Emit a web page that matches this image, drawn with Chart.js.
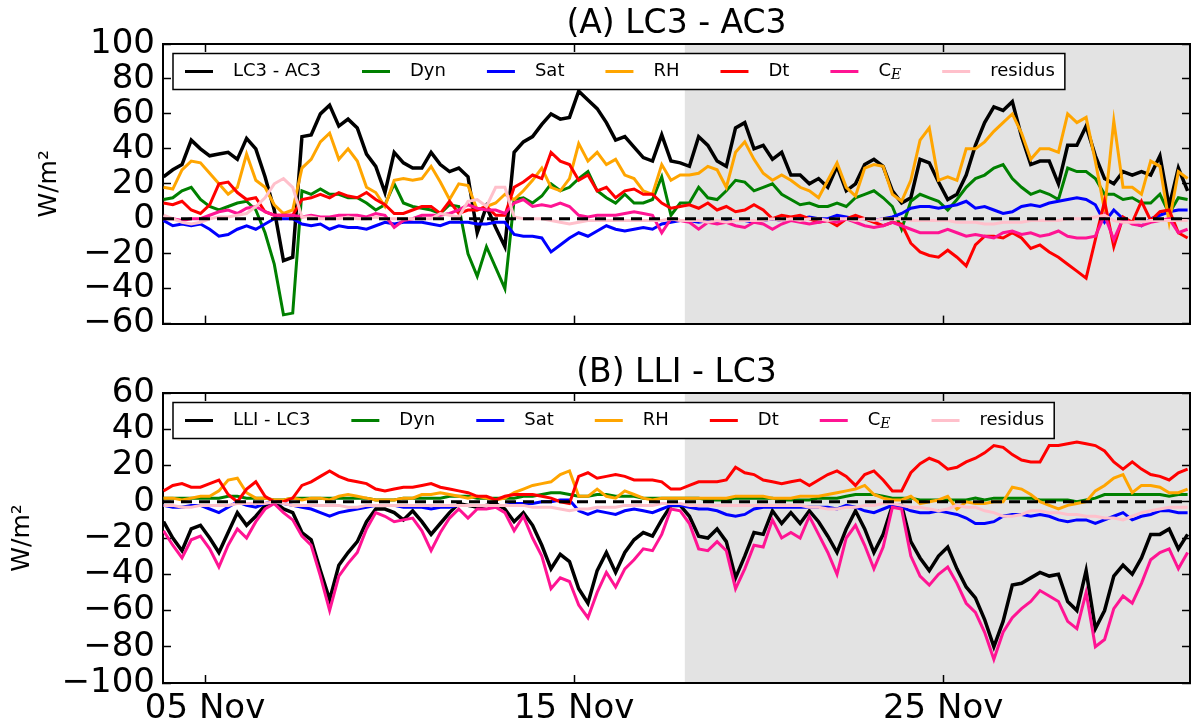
<!DOCTYPE html>
<html>
<head>
<meta charset="utf-8">
<title>(A) LC3 - AC3 / (B) LLI - LC3</title>
<script src="https://cdn.jsdelivr.net/npm/chart.js@4.4.1/dist/chart.umd.min.js"></script>
<style>
  html, body { margin: 0; padding: 0; background: #fff; }
  #wrap { position: relative; width: 1192px; height: 728px; overflow: hidden; }
  canvas { position: absolute; left: 0; }
  #chartA { top: 0; }
  #chartB { top: 350px; }
</style>
</head>
<body>
<div id="wrap">
  <canvas id="chartA" width="1192" height="360"></canvas>
  <canvas id="chartB" width="1192" height="378"></canvas>
</div>
<script>
// --- DADOS ---
// uma amostra a cada 6 h, a partir do dia 3.875 (03 Nov 21h), eixo x em dias de novembro
const T0 = 3.875, DT = 0.25;
const X_MIN = 3.86, X_MAX = 31.69;
const SHADE_START = 18;            // faixa cinza a partir de 18 Nov

const xTicks = [5, 15, 25];
const xTickLabels = ['05 Nov', '15 Nov', '25 Nov'];
const yRangeA = [-60, 100];
const yRangeB = [-100, 60];
const Y_STEP = 20;

const labelsA = ['LC3 - AC3', 'Dyn', 'Sat', 'RH', 'Dt', 'C_E', 'residus'];
const labelsB = ['LLI - LC3', 'Dyn', 'Sat', 'RH', 'Dt', 'C_E', 'residus'];
const CORES = ['#000000', '#008000', '#0000ff', '#ffa500', '#ff0000', '#ff1493', '#ffc0cb'];

// (A) LC3 - AC3
const aTotal = [24, 28, 31, 45, 40,
  36, 37, 38, 34, 46, 40, 24, 5, -24, -22, 47, 48, 60, 65, 53, 57, 52, 37, 30, 15,
  38, 32, 29, 29, 38, 31, 27, 29, 24, -8, 7, -5, -16, 38, 44, 47, 54, 60, 57, 58,
  73, 68, 63, 55, 45, 47, 41, 35, 33, 48, 33, 32, 30, 47, 42, 33, 30, 52, 55, 40,
  42, 34, 38, 25, 25, 20, 23, 18, 30, 16, 20, 31, 34, 30, 16, 9, 12, 34, 32, 21,
  11, 14, 25, 42, 55, 64, 62, 67, 47, 31, 33, 33, 20, 42, 42, 53, 36, 23, 20, 27,
  25, 27, 25, 36, 7, 29, 16];
const aDyn = [11, 12, 16, 18, 11,
  7, 5, 7, 9, 10, 5, -8, -26, -55, -54, 16, 14, 17, 14, 14, 12, 12, 9, 5, 8,
  20, 9, 7, 6, 5, 3, 8, 7, -20, -33, -16, -28, -40, 11, 12, 9, 13, 20, 16, 18,
  23, 27, 16, 12, 9, 14, 9, 9, 11, 24, 2, 9, 9, 18, 12, 11, 16, 22, 21, 16,
  18, 20, 14, 11, 8, 9, 7, 7, 9, 7, 12, 14, 16, 12, 7, -6, 10, 14, 12, 10,
  5, 11, 18, 23, 25, 29, 31, 23, 18, 14, 16, 14, 11, 29, 27, 27, 23, 14, 14, 11,
  12, 9, 9, 14, 3, 12, 11];
const aSat = [-1, -4, -3, -4, -3,
  -6, -10, -9, -6, -4, -6, -3, 0, 0, 0, -3, -4, -3, -6, -4, -5, -5, -6, -4, -2,
  -3, -2, -2, -2, -3, -4, -2, -2, -2, -3, -3, -2, -2, -9, -10, -10, -11, -19, -15, -11,
  -8, -10, -7, -4, -6, -7, -6, -5, -6, -3, -2, -1, -1, -2, -1, -2, -1, -1, -1, -2,
  -1, 0, -1, 0, 0, 1, 0, 0, 2, 1, 0, 0, -1, 0, 1, 3, 6, 7, 7, 6,
  7, 8, 10, 6, 7, 5, 3, 4, 7, 8, 7, 9, 10, 11, 12, 11, 8, -2, 5, 0,
  -2, -4, 0, 2, 4, 5, 5];
const aRH = [18, 17, 28, 33, 32,
  26, 20, 14, 18, 37, 22, 18, 8, 3, 5, 29, 34, 44, 49, 34, 40, 33, 18, 15, 7,
  22, 23, 22, 23, 30, 21, 11, 20, 19, 5, 7, 9, 14, 11, 16, 22, 29, 18, 16, 23,
  43, 33, 38, 31, 34, 25, 23, 16, 14, 31, 22, 25, 25, 26, 30, 28, 18, 38, 44, 34,
  26, 22, 25, 22, 18, 16, 12, 22, 32, 18, 13, 29, 31, 30, 14, 10, 22, 45, 52, 22,
  24, 22, 40, 40, 44, 50, 55, 60, 49, 34, 40, 40, 38, 60, 55, 58, 33, 5, 56, 18,
  18, 14, 33, 30, -2, 27, 23];
const aDt = [9, 8, 10, 5, 3,
  8, 20, 21, 15, 11, 12, 4, 2, 2, 2, 11, 12, 14, 12, 15, 13, 12, 15, 11, 8,
  3, 3, 5, 7, 7, 3, 10, 3, 5, 5, 7, 2, 2, 18, 21, 25, 23, 38, 33, 31,
  22, 25, 16, 18, 12, 16, 17, 14, 14, 9, 6, 7, 8, 6, 9, 5, 7, 4, 5, 8,
  5, 0, 2, 1, 2, 0, -2, -1, -4, 0, 2, 0, -2, -4, -2, -3, -14, -19, -21, -22,
  -18, -22, -27, -15, -10, -10, -11, -8, -11, -17, -15, -19, -22, -26, -30, -34, -12, 10, -16, 1,
  -2, 10, -1, 4, 5, -8, -11];
const aCE = [0, 0, -1, 0, 0,
  2, 4, 5, 3, 6, 7, 4, 2, 2, 2, 1, 2, 1, 1, 2, 2, 2, 1, 3, 2,
  -5, -1, 0, 2, 2, 2, 3, 5, 8, 6, 5, 5, 3, 9, 11, 7, 8, 7, 9, 7,
  2, 1, 2, 2, 2, 3, 4, 3, 2, -8, 0, -1, -2, -6, -2, -3, -2, -4, -5, -2,
  -3, -6, -3, -1, -2, -3, -2, -1, -2, 0, -2, -4, -5, -4, -2, -4, -6, -8, -8, -8,
  -6, -8, -10, -9, -10, -11, -8, -7, -9, -8, -10, -9, -7, -10, -11, -11, -10, 2, -12, 0,
  -3, -4, -2, -1, 0, -8, -6];
const aRes = [2, 0, -2, -3, -2,
  0, 1, 1, 2, 3, 7, 12, 20, 23, 18, 1, 1, 0, 0, 0, 1, 0, 0, 1, 0,
  0, 0, 0, 0, 0, 3, 2, 1, 10, 11, 7, 18, 18, 1, 0, 0, 0, -1, -2, -3,
  -2, -1, -1, -1, -1, -1, -1, -1, -1, -1, 0, -1, -1, -1, -2, -1, -2, -1, -1, -1,
  -1, 0, -1, 0, -1, 0, 0, -1, 0, 0, -1, 0, -1, 0, 0, 0, -1, -1, -1, -1,
  -1, -2, -2, -2, -3, -3, -2, -2, -2, -1, -1, -1, -1, 0, 0, 0, 1, 2, -1, -2,
  -2, -2, -1, -1, -1, -1, -1];

// (B) LLI - LC3
const bTotal = [-11, -20, -27, -15, -13,
  -20, -28, -17, -6, -13, -8, -2, 0, -4, -6, -17, -21, -38, -54, -35, -28, -22, -11, -4, -4,
  -6, -10, -5, -11, -18, -12, -6, -1, -2, -3, -2, -1, -4, -11, -6, -13, -24, -37, -29, -33,
  -48, -56, -38, -28, -39, -28, -21, -17, -19, -10, -2, -2, -8, -19, -20, -15, -22, -42, -30, -17,
  -18, -5, -12, -6, -12, -5, -11, -19, -28, -15, -5, -15, -28, -18, -2, -2, -22, -31, -38, -30,
  -25, -37, -47, -53, -65, -80, -66, -46, -45, -42, -39, -41, -40, -55, -60, -38, -70, -60, -41, -35,
  -40, -31, -18, -18, -15, -26, -18];
const bDyn = [2, 2, 2, 2, 2,
  2, 2, 3, 3, 2, 2, 2, 1, 1, 2, 2, 2, 2, 2, 2, 2, 2, 2, 1, 1,
  1, 2, 2, 2, 2, 2, 3, 3, 3, 2, 2, 2, 2, 2, 3, 3, 4, 5, 5, 4,
  3, 3, 4, 4, 3, 3, 3, 2, 2, 2, 2, 2, 2, 2, 1, 1, 1, 2, 2, 2,
  2, 2, 1, 1, 1, 1, 2, 2, 2, 3, 4, 4, 4, 3, 2, 2, 2, 1, 1, 1,
  1, 1, 1, 2, 1, 2, 2, 2, 2, 2, 1, 1, 1, 1, 0, 1, 2, 4, 4, 4,
  4, 4, 4, 4, 3, 4, 4];
const bSat = [-2, -3, -3, -2, -2,
  -4, -6, -3, 0, -2, -3, -1, 0, -1, -2, -3, -4, -6, -8, -6, -5, -4, -3, -2, -2,
  -2, -3, -3, -3, -4, -3, -3, -2, -2, -2, -2, -2, -2, -1, -1, -1, 0, 0, 1, 1,
  -5, -7, -5, -6, -7, -5, -4, -5, -6, -4, -2, -2, -3, -4, -4, -5, -7, -8, -7, -4,
  -3, -3, -3, -3, -3, -3, -3, -3, -4, -2, -3, -5, -6, -4, -2, -3, -5, -6, -6, -5,
  -6, -7, -9, -12, -12, -11, -8, -7, -7, -8, -7, -8, -10, -11, -10, -10, -12, -10, -8, -6,
  -10, -8, -7, -5, -5, -6, -6];
const bRH = [2, 2, 1, 2, 3,
  3, 6, 12, 13, 5, 2, 2, 1, 1, 2, 1, 2, 2, 1, 3, 4, 3, 2, 1, 1,
  1, 2, 2, 4, 4, 5, 4, 3, 2, 3, 2, 1, 2, 5, 7, 9, 10, 11, 15, 17,
  3, 3, 7, 3, 2, 6, 4, 2, 1, 2, 2, 2, 2, 2, 2, 2, 2, 3, 3, 3,
  3, 2, 2, 2, 3, 3, 3, 4, 5, 6, 7, 9, 4, 2, 1, 1, 3, -1, 0, 1,
  3, -4, 0, -1, -1, 0, 0, 8, 7, 4, 0, -2, -4, -2, -1, 0, 6, 9, 13, 15,
  5, 9, 9, 8, 5, 5, 7];
const bDt = [6, 9, 10, 8, 8,
  10, 12, 4, 0, 7, 11, 3, 0, 0, 2, 9, 11, 14, 17, 14, 12, 11, 10, 7, 6,
  7, 8, 8, 9, 10, 8, 7, 6, 5, 3, 3, 1, 3, 4, 4, 4, 3, 2, 0, -1,
  14, 16, 13, 14, 15, 14, 12, 12, 12, 11, 7, 7, 9, 11, 11, 11, 12, 19, 16, 15,
  12, 11, 10, 11, 12, 9, 12, 15, 17, 14, 9, 15, 17, 12, 6, 6, 16, 21, 24, 22,
  18, 19, 22, 24, 27, 31, 30, 26, 23, 22, 22, 31, 31, 32, 33, 32, 31, 28, 22, 18,
  22, 18, 15, 14, 12, 16, 18];
const bCE = [-16, -24, -31, -21, -19,
  -26, -36, -24, -15, -20, -11, -4, -1, -6, -10, -19, -24, -41, -60, -41, -34, -28, -15, -6, -8,
  -11, -10, -9, -16, -27, -17, -9, -4, -9, -4, -4, -3, -6, -16, -8, -20, -30, -48, -42, -44,
  -57, -64, -50, -39, -47, -37, -32, -26, -27, -18, -4, -5, -12, -26, -27, -22, -27, -48, -37, -24,
  -25, -10, -20, -17, -20, -8, -18, -28, -40, -20, -13, -24, -37, -25, -3, -4, -30, -41, -46, -40,
  -36, -45, -56, -61, -72, -87, -72, -64, -59, -55, -49, -52, -55, -66, -70, -50, -80, -76, -59, -52,
  -56, -45, -32, -28, -26, -37, -28];
const bRes = [-2, -2, -3, -3, -2,
  -2, -2, -2, -1, -1, -1, -1, 0, -1, -2, -2, -2, -2, -2, -2, -3, -3, -2, -2, -2,
  -2, -2, -2, -2, -2, -2, -2, -2, -2, -2, -2, -2, -2, -2, -2, -3, -3, -3, -4, -5,
  -4, -4, -3, -3, -3, -2, -2, -2, -2, -1, -1, -1, -2, -2, -2, -2, -2, -2, -2, -2,
  -2, -2, -2, -2, -2, -3, -3, -4, -4, -3, -3, -2, -2, -1, -1, -2, -3, -3, -4, -5,
  -4, -2, -3, -3, -5, -6, -8, -8, -7, -5, -5, -6, -6, -7, -7, -8, -8, -9, -9, -10,
  -8, -6, -5, -4, -3, -3, -3];

// --- ESTILO ---
const FONTE = "'DejaVu Sans', sans-serif";
const COR_FAIXA = '#e3e3e3';
Chart.defaults.font.family = FONTE;
Chart.defaults.color = '#000';

function pontos(vals) {
  return vals.map((v, i) => ({ x: T0 + i * DT, y: v }));
}

function montarDatasets(rotulos, series) {
  const ds = series.map((vals, k) => ({
    label: rotulos[k],
    data: pontos(vals),
    borderColor: CORES[k],
    backgroundColor: CORES[k],
    borderWidth: k === 0 ? 3.5 : 3,
    pointRadius: 0,
    fill: false,
    tension: 0,
    order: series.length - k      // a ultima serie fica por cima, como no matplotlib
  }));
  // linha tracejada do zero, por cima de tudo
  ds.push({
    label: '',
    data: [{ x: X_MIN, y: 0 }, { x: X_MAX, y: 0 }],
    borderColor: '#000',
    borderWidth: 3,
    borderDash: [11, 7],
    pointRadius: 0,
    order: 0
  });
  return ds;
}

// faixa cinza (periodo a partir de 18 Nov)
const faixaCinza = {
  id: 'faixaCinza',
  beforeDraw(chart) {
    const { ctx, chartArea: ca, scales } = chart;
    const x0 = scales.x.getPixelForValue(SHADE_START);
    ctx.save();
    ctx.fillStyle = COR_FAIXA;
    ctx.fillRect(x0, ca.top, ca.right - x0, ca.bottom - ca.top);
    ctx.restore();
  }
};

// rotulo com subscrito opcional: 'C_E' -> C com E italico
function medirRotulo(ctx, txt) {
  const [base, sub] = txt.split('_');
  ctx.font = '18px ' + FONTE;
  let w = ctx.measureText(base).width;
  if (sub) {
    ctx.font = 'italic 14px "DejaVu Serif", serif';
    w += ctx.measureText(sub).width;
  }
  return w;
}

function desenharRotulo(ctx, txt, x, y) {
  const [base, sub] = txt.split('_');
  ctx.fillStyle = '#000';
  ctx.textBaseline = 'middle';
  ctx.textAlign = 'left';
  ctx.font = '18px ' + FONTE;
  ctx.fillText(base, x, y);
  if (sub) {
    const w = ctx.measureText(base).width;
    ctx.font = 'italic 14px "DejaVu Serif", serif';
    ctx.fillText(sub, x + w, y + 4);
  }
}

// legenda em caixa dentro da area do grafico, 7 colunas
const legendaCaixa = {
  id: 'legendaCaixa',
  afterDatasetsDraw(chart) {
    const { ctx, chartArea: ca } = chart;
    const itens = chart.data.datasets.filter(d => d.label);
    ctx.save();
    const larguras = itens.map(d => medirRotulo(ctx, d.label));
    const left = ca.left + 10, top = ca.top + 9.5, h = 36;
    let w = 12;
    larguras.forEach((lw, i) => { w += 48 + lw + (i < larguras.length - 1 ? 41 : 0); });
    w += 10;
    ctx.fillStyle = '#fff';
    ctx.fillRect(left, top, w, h);
    ctx.strokeStyle = '#000';
    ctx.lineWidth = 1.5;
    ctx.strokeRect(left, top, w, h);

    let x = left + 12;
    const y = top + h / 2;
    itens.forEach((d, i) => {
      ctx.strokeStyle = d.borderColor;
      ctx.lineWidth = 3;
      ctx.beginPath();
      ctx.moveTo(x, y);
      ctx.lineTo(x + 28, y);
      ctx.stroke();
      desenharRotulo(ctx, d.label, x + 48, y);
      x += 48 + larguras[i] + 41;
    });
    ctx.restore();
  }
};

function eixos(faixaY, padTituloY, mostrarDatas, alturaEixoX) {
  const borda = { display: true, color: '#000', width: 2 };
  const grade = { display: true, drawOnChartArea: false, drawTicks: true, tickLength: -8, tickColor: '#000', tickWidth: 1.5 };
  const ticksX = s => { s.ticks = xTicks.map(v => ({ value: v })); };
  return {
    x: {
      type: 'linear', position: 'bottom', min: X_MIN, max: X_MAX,
      border: borda, grid: grade,
      afterBuildTicks: ticksX,
      ticks: {
        display: mostrarDatas, autoSkip: false, maxRotation: 0, padding: 13.6,
        font: { size: 34 },
        callback: v => xTickLabels[xTicks.indexOf(v)]
      },
      afterFit: s => { s.height = alturaEixoX; }
    },
    xTopo: {
      type: 'linear', position: 'top', min: X_MIN, max: X_MAX,
      border: borda, grid: grade,
      afterBuildTicks: ticksX,
      ticks: { display: false },
      afterFit: s => { s.height = 0; }
    },
    y: {
      type: 'linear', position: 'left', min: faixaY[0], max: faixaY[1],
      border: borda, grid: grade,
      ticks: {
        stepSize: Y_STEP, autoSkip: false, padding: 16, font: { size: 34 },
        callback: v => String(v).replace('-', '\u2212')
      },
      title: {
        display: true, text: 'W/m\u00b2',
        font: { size: 25 }, padding: { top: padTituloY, bottom: 0 }
      },
      afterFit: s => { s.width = 163; }
    },
    yDir: {
      type: 'linear', position: 'right', min: faixaY[0], max: faixaY[1],
      border: borda, grid: grade,
      ticks: { display: false, stepSize: Y_STEP, autoSkip: false },
      afterFit: s => { s.width = 2; }
    }
  };
}

function criarGrafico(idCanvas, titulo, padTitulo, faixaY, padTituloY, mostrarDatas, alturaEixoX, rotulos, series) {
  const ctx = document.getElementById(idCanvas).getContext('2d');
  return new Chart(ctx, {
    type: 'line',
    data: { datasets: montarDatasets(rotulos, series) },
    options: {
      responsive: false,
      animation: false,
      devicePixelRatio: 1,
      layout: { padding: 0 },
      scales: eixos(faixaY, padTituloY, mostrarDatas, alturaEixoX),
      plugins: {
        legend: { display: false },
        tooltip: { enabled: false },
        title: {
          display: true, text: titulo, fullSize: false, color: '#000',
          font: { size: 33, weight: 'normal', lineHeight: 1.2 },
          padding: { top: padTitulo, bottom: 0 }
        }
      }
    },
    plugins: [faixaCinza, legendaCaixa]
  });
}

window.chartA = criarGrafico('chartA', '(A) LC3 - AC3', 4.4, yRangeA, 34, false, 25, labelsA,
  [aTotal, aDyn, aSat, aRH, aDt, aCE, aRes]);
window.chartB = criarGrafico('chartB', '(B) LLI - LC3', 3.4, yRangeB, 7, true, 45, labelsB,
  [bTotal, bDyn, bSat, bRH, bDt, bCE, bRes]);
</script>
</body>
</html>
